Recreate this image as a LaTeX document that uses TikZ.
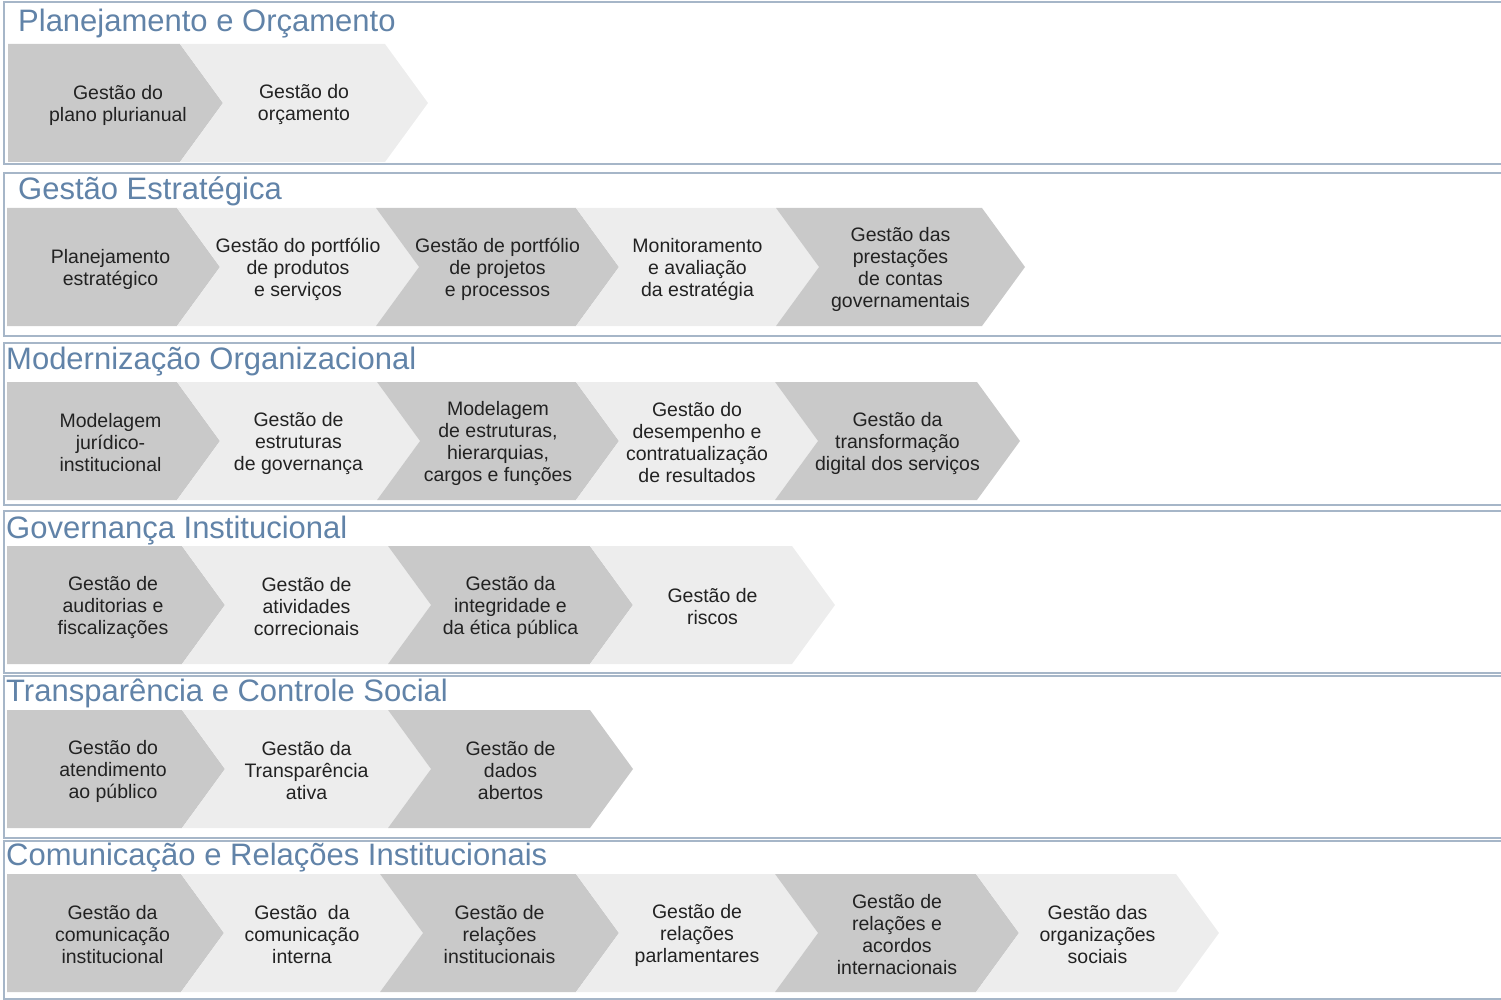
\documentclass[tikz,border=0pt]{standalone}
\usepackage{fontspec}
\setmainfont{Liberation Sans}
\definecolor{darkchev}{HTML}{C9C9C9}
\definecolor{lightchev}{HTML}{EDEDED}
\definecolor{framecol}{HTML}{A6B6C8}
\definecolor{titlecol}{HTML}{6183A8}
\definecolor{textcol}{HTML}{222222}
\tikzset{
  ctext/.style={align=center, text=textcol, font=\fontsize{19.5}{22}\selectfont, inner sep=0pt},
  bandtitle/.style={anchor=base west, text=titlecol, font=\fontsize{31}{36}\selectfont, inner sep=0pt},
  bandframe/.style={draw=framecol, line width=1.5pt}
}
% #1 L, #2 R, #3 top, #4 colour, #5 name, #6 text, #7 notch factor (0 first, 1 others)
\newcommand\mychev[7]{%
  \fill[#4] (#1,#3) -- (#2,#3) -- (#2+43,#3+59) -- (#2,#3+118) -- (#1,#3+118) -- (#1+#7*43,#3+59) -- cycle;
  \node[ctext] (#5) at ({(#1+#2+43)/2-3+3*#7},#3+61) {#6};
}
\newcommand\myband[3]{% #1 top, #2 bottom, #3 name
  \draw[bandframe] (1501,#1) -- (4,#1) -- (4,#2) -- (1501,#2);
}
\begin{document}
\begin{tikzpicture}[x=1pt,y=-1pt]
\useasboundingbox (0,0) rectangle (1501,1000);
% frames
\myband{2}{164}{f1}
\myband{173}{336}{f2}
\myband{343}{505}{f3}
\myband{511}{673}{f4}
\myband{676}{838}{f5}
\myband{841}{999}{f6}
% titles
\node[bandtitle] (t1) at (18,32) {Planejamento e Orçamento};
\node[bandtitle] (t2) at (18,200) {Gestão Estratégica};
\node[bandtitle] (t3) at (6,369) {Modernização Organizacional};
\node[bandtitle] (t4) at (6,538) {Governança Institucional};
\node[bandtitle] (t5) at (6,701) {Transparência e Controle Social};
\node[bandtitle] (t6) at (6,865) {Comunicação e Relações Institucionais};
% band 1
\fill[darkchev] (8,44) -- (180,44) -- (223,103) -- (180,162) -- (8,162) -- cycle;
\node[ctext] (a1) at (118,105) {Gestão do\\plano plurianual};
\mychev{180}{385}{44}{lightchev}{a2}{Gestão do\\orçamento}{1}
% band 2
\mychev{7}{177}{208}{darkchev}{b1}{Planejamento\\estratégico}{0}
\mychev{177}{376}{208}{lightchev}{b2}{Gestão do portfólio\\de produtos\\e serviços}{1}
\mychev{376}{576}{208}{darkchev}{b3}{Gestão de portfólio\\de projetos\\e processos}{1}
\mychev{576}{776}{208}{lightchev}{b4}{Monitoramento\\e avaliação\\da estratégia}{1}
\mychev{776}{982}{208}{darkchev}{b5}{Gestão das\\prestações\\de contas\\governamentais}{1}
% band 3
\mychev{7}{177}{382}{darkchev}{c1}{Modelagem\\jurídico-\\institucional}{0}
\mychev{177}{377}{382}{lightchev}{c2}{Gestão de\\estruturas\\de governança}{1}
\mychev{377}{576}{382}{darkchev}{c3}{Modelagem\\de estruturas,\\hierarquias,\\cargos e funções}{1}
\mychev{576}{775}{382}{lightchev}{c4}{Gestão do\\desempenho e\\contratualização\\de resultados}{1}
\mychev{775}{977}{382}{darkchev}{c5}{Gestão da\\transformação\\digital dos serviços}{1}
% band 4
\mychev{7}{182}{546}{darkchev}{d1}{Gestão de\\auditorias e\\fiscalizações}{0}
\mychev{182}{388}{546}{lightchev}{d2}{Gestão de\\atividades\\correcionais}{1}
\mychev{388}{590}{546}{darkchev}{d3}{Gestão da\\integridade e\\da ética pública}{1}
\mychev{590}{792}{546}{lightchev}{d4}{Gestão de\\riscos}{1}
% band 5
\mychev{7}{182}{710}{darkchev}{e1}{Gestão do\\atendimento\\ao público}{0}
\mychev{182}{388}{710}{lightchev}{e2}{Gestão da\\Transparência\\ativa}{1}
\mychev{388}{590}{710}{darkchev}{e3}{Gestão de\\dados\\abertos}{1}
% band 6
\mychev{7}{181}{874}{darkchev}{g1}{Gestão da\\comunicação\\institucional}{0}
\mychev{181}{380}{874}{lightchev}{g2}{Gestão~~da\\comunicação\\interna}{1}
\mychev{380}{576}{874}{darkchev}{g3}{Gestão de\\relações\\institucionais}{1}
\mychev{576}{775}{874}{lightchev}{g4}{Gestão de\\relações\\parlamentares}{1}
\mychev{775}{976}{874}{darkchev}{g5}{Gestão de\\relações e\\acordos\\internacionais}{1}
\mychev{976}{1176}{874}{lightchev}{g6}{Gestão das\\organizações\\sociais}{1}
\end{tikzpicture}
\end{document}
